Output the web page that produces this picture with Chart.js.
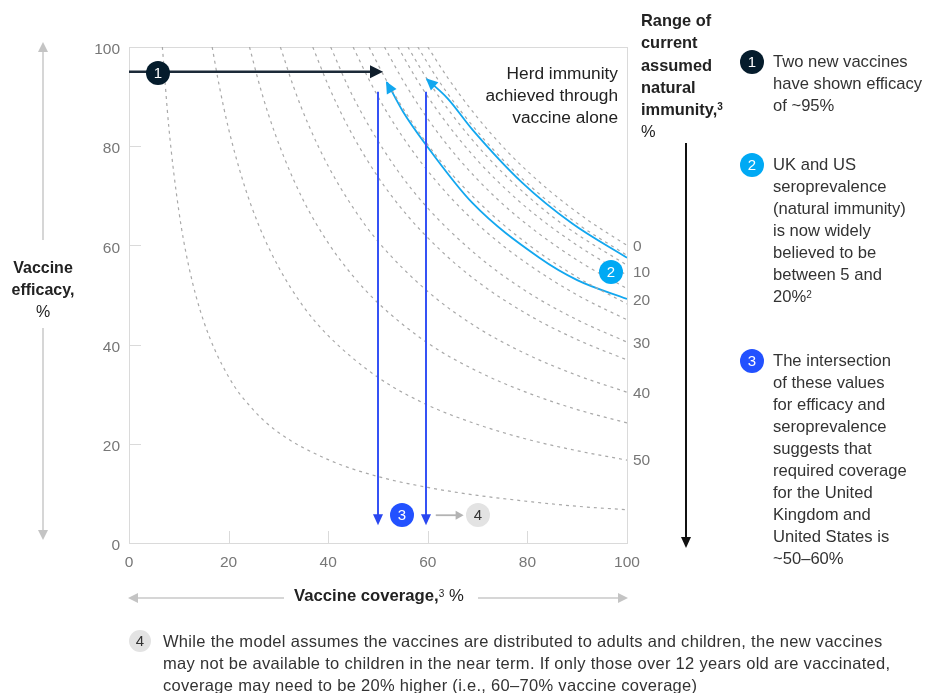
<!DOCTYPE html>
<html>
<head>
<meta charset="utf-8">
<script src="https://cdn.jsdelivr.net/npm/chart.js@4.4.1/dist/chart.umd.min.js"></script>
<style>
  html, body { margin: 0; padding: 0; background: #fff; }
  body { font-family: "Liberation Sans", Arial, sans-serif; color: #222; }
  #wrap { position: relative; width: 929px; height: 693px; overflow: hidden; }
  #chart { position: absolute; left: 0; top: 0; }
  .abs { position: absolute; white-space: nowrap; }
  .badge { position: absolute; width: 24px; height: 24px; border-radius: 50%; color: #fff;
           font-size: 15px; line-height: 24px; text-align: center; }
  .b1 { background: #051c2c; }
  .b2 { background: #00a9f4; }
  .b3 { background: #2251ff; }
  .b4 { background: #e3e3e3; color: #333; }
  .note { position: absolute; left: 773px; font-size: 16.6px; line-height: 22px; color: #333; white-space: nowrap; }
  .rng { position: absolute; left: 633px; font-size: 15.5px; color: #777; line-height: 18px; }
  sup { font-size: 10px; vertical-align: top; position: relative; top: -2px; }
  .garrow { position: absolute; background: #d6d6d6; }
</style>
</head>
<body>
<div id="wrap">
  <canvas id="chart" width="929" height="693"></canvas>

  <!-- in-plot callouts -->
  <div class="badge b1" style="left:146px; top:61px;">1</div>
  <div class="badge b2" style="left:599px; top:260px;">2</div>
  <div class="badge b3" style="left:390px; top:503px;">3</div>
  <div class="badge b4" style="left:466px; top:503px;">4</div>
  <div class="abs" style="right:311px; top:62px; font-size:17.3px; line-height:22px; text-align:right; color:#222;">Herd immunity<br>achieved through<br>vaccine alone</div>

  <!-- natural immunity scale -->
  <div class="abs" style="left:641px; top:9px; font-size:16.4px; line-height:22.3px; color:#222;"><b>Range of<br>current<br>assumed<br>natural<br>immunity,<sup>3</sup></b><br>%</div>
  <div class="abs" style="left:685px; top:143px; width:2px; height:396px; background:#111;"></div>
  <div class="abs" style="left:681px; top:537px; width:0; height:0; border-left:5px solid transparent; border-right:5px solid transparent; border-top:11px solid #111;"></div>
  <div class="rng" style="top:237px;">0</div>
  <div class="rng" style="top:263px;">10</div>
  <div class="rng" style="top:291px;">20</div>
  <div class="rng" style="top:334px;">30</div>
  <div class="rng" style="top:384px;">40</div>
  <div class="rng" style="top:451px;">50</div>

  <!-- side notes -->
  <div class="badge b1" style="left:740px; top:50px;">1</div>
  <div class="note" style="top:51px;">Two new vaccines<br>have shown efficacy<br>of ~95%</div>
  <div class="badge b2" style="left:740px; top:153px;">2</div>
  <div class="note" style="top:154px;">UK and US<br>seroprevalence<br>(natural immunity)<br>is now widely<br>believed to be<br>between 5 and<br>20%<sup>2</sup></div>
  <div class="badge b3" style="left:740px; top:349px;">3</div>
  <div class="note" style="top:350px;">The intersection<br>of these values<br>for efficacy and<br>seroprevalence<br>suggests that<br>required coverage<br>for the United<br>Kingdom and<br>United States is<br>~50–60%</div>

  <!-- y axis title -->
  <div class="abs" style="left:0; width:86px; top:257px; text-align:center; font-size:16px; line-height:22px; color:#222;"><b>Vaccine<br>efficacy,</b><br>%</div>
  <div class="garrow" style="left:42px; top:52px; width:1.5px; height:188px;"></div>
  <div class="abs" style="left:38px; top:42px; border-left:5px solid transparent; border-right:5px solid transparent; border-bottom:10px solid #c4c4c4;"></div>
  <div class="garrow" style="left:42px; top:328px; width:1.5px; height:202px;"></div>
  <div class="abs" style="left:38px; top:530px; border-left:5px solid transparent; border-right:5px solid transparent; border-top:10px solid #c4c4c4;"></div>

  <!-- x axis title -->
  <div class="abs" style="left:294px; top:586px; font-size:16.7px; line-height:20px; color:#222;"><b>Vaccine coverage,</b><sup>3</sup> %</div>
  <div class="garrow" style="left:138px; top:597px; width:146px; height:1.5px;"></div>
  <div class="abs" style="left:128px; top:593px; border-top:5px solid transparent; border-bottom:5px solid transparent; border-right:10px solid #c4c4c4;"></div>
  <div class="garrow" style="left:478px; top:597px; width:140px; height:1.5px;"></div>
  <div class="abs" style="left:618px; top:593px; border-top:5px solid transparent; border-bottom:5px solid transparent; border-left:10px solid #c4c4c4;"></div>

  <!-- footnote -->
  <div class="badge b4" style="left:129px; top:630px; width:22px; height:22px; line-height:22px;">4</div>
  <div class="abs" style="left:163px; top:630px; font-size:16.5px; letter-spacing:0.3px; line-height:22px; color:#333;">While the model assumes the vaccines are distributed to adults and children, the new vaccines<br>may not be available to children in the near term. If only those over 12 years old are vaccinated,<br>coverage may need to be 20% higher (i.e., 60–70% vaccine coverage)</div>
</div>

<script>
// Axis ticks
const coverageTicks = [0, 20, 40, 60, 80, 100];
const efficacyTicks = [0, 20, 40, 60, 80, 100];

// Herd-immunity threshold curves, [coverage %, efficacy %], one per assumed natural-immunity level
const curveA = [[6.7,100],[8,83.8],[10,67],[12,55.8],[15,44.7],[20,33.5],[25,26.8],[30,22.3],[40,16.8],[50,13.4],[60,11.2],[70,9.6],[80,8.4],[90,7.4],[100,6.7]];
const curveB = [[16.7,100],[18,92.8],[20,83.5],[23,72.6],[26,64.2],[30,55.7],[35,47.7],[40,41.8],[50,33.4],[60,27.8],[70,23.9],[80,20.9],[90,18.6],[100,16.7]];
const curveC = [[24.2,100],[26,93.1],[28,86.4],[31,78.1],[35,69.1],[40,60.5],[45,53.8],[50,48.4],[60,40.3],[70,34.6],[80,30.3],[90,26.9],[100,24.2]];
const curveD = [[30.4,100],[33,92.1],[36,84.4],[40,76],[45,67.6],[50,60.8],[60,50.7],[70,43.4],[80,38],[90,33.8],[100,30.4]];
const curveE = [[36.9,100],[40,92.3],[44,83.9],[50,73.8],[56,65.9],[63,58.6],[70,52.7],[80,46.1],[90,41],[100,36.9]];
const curveF = [[40.5,100],[44,92],[48,84.4],[54,75],[60,67.5],[70,57.9],[80,50.6],[90,45],[100,40.5]];
const curveG = [[45,100],[48,93.8],[52,86.5],[58,77.6],[65,69.2],[72,62.5],[80,56.3],[90,50],[100,45]];
const curveH = [[48.2,100],[52,92.7],[56,86.1],[62,77.7],[70,68.9],[80,60.3],[90,53.6],[100,48.2]];
const curveI = [[51.3,100],[55,93.3],[60,85.5],[66,77.7],[74,69.3],[82,62.6],[91,56.4],[100,51.3]];
const curveJ = [[54,100],[58,93.1],[63,85.7],[70,77.1],[78,69.2],[86,62.8],[93,58.1],[100,54]];
const curveK = [[56,100],[60,93.3],[65,86.2],[72,77.8],[80,70],[88,63.6],[100,56]];
const curveL = [[58,100],[62,93.5],[67,86.6],[74,78.4],[82,70.7],[90,64.4],[100,58]];
const curveM = [[60,100],[64,93.8],[69,87],[76,78.9],[84,71.4],[92,65.2],[100,60]];

// Current seroprevalence range (5% and 20% natural immunity)
const seroLow5 = [[59.8,93.5],[64,89.6],[69,83.3],[79,72.6],[89,64.4],[100,57.5]];
const seroHigh20 = [[51.8,92.9],[55,87],[59.4,80.6],[69,68.5],[82.4,57.5],[90,53],[100,49.2]];

// Callout values
const vaccineEfficacy = 95;           // reported efficacy of the new vaccines
const efficacyArrowEnd = 51;          // coverage where the efficacy arrow stops
const coverageRange = [50, 59.6];     // required coverage, UK / US
const coverageArrowTop = 91;          // efficacy where the coverage drop lines start
const coverageArrowBottom = 3.6;      // efficacy at the arrow tips
const adultsOnlyArrow = [61.6, 67.2]; // shift towards adults-only coverage

const dashedCurves = [curveA, curveB, curveC, curveD, curveE, curveF, curveG, curveH, curveI, curveJ, curveK, curveL, curveM];

const toXY = arr => arr.map(([x, y]) => ({ x, y }));

const datasets = dashedCurves.map(c => ({
  data: toXY(c),
  borderColor: '#a9a9a9',
  borderWidth: 1.2,
  borderDash: [3, 4],
  pointRadius: 0,
  showLine: true,
  fill: false,
  cubicInterpolationMode: 'monotone'
}));
[seroLow5, seroHigh20].forEach(c => datasets.push({
  data: toXY(c),
  borderColor: '#12a7ef',
  borderWidth: 1.8,
  pointRadius: 0,
  showLine: true,
  fill: false,
  cubicInterpolationMode: 'monotone',
  arrowStart: true
}));

function arrowHead(ctx, tipX, tipY, dx, dy, len, half, color) {
  const d = Math.hypot(dx, dy) || 1;
  const ux = dx / d, uy = dy / d;
  const bx = tipX - ux * len, by = tipY - uy * len;
  ctx.beginPath();
  ctx.moveTo(tipX, tipY);
  ctx.lineTo(bx - uy * half, by + ux * half);
  ctx.lineTo(bx + uy * half, by - ux * half);
  ctx.closePath();
  ctx.fillStyle = color;
  ctx.fill();
}

const frameAndCallouts = {
  id: 'frameAndCallouts',
  beforeDatasetsDraw(chart) {
    const { ctx, chartArea: a, scales: { x, y } } = chart;
    ctx.save();
    ctx.strokeStyle = '#dadada';
    ctx.lineWidth = 1;
    ctx.strokeRect(a.left + 0.5, a.top + 0.5, a.right - a.left, a.bottom - a.top);
    // inward tick marks
    ctx.beginPath();
    coverageTicks.slice(1, -1).forEach(v => {
      const px = Math.round(x.getPixelForValue(v)) + 0.5;
      ctx.moveTo(px, a.bottom); ctx.lineTo(px, a.bottom - 12);
    });
    efficacyTicks.slice(1, -1).forEach(v => {
      const py = Math.round(y.getPixelForValue(v)) + 0.5;
      ctx.moveTo(a.left, py); ctx.lineTo(a.left + 12, py);
    });
    ctx.stroke();
    ctx.restore();
  },
  afterDatasetsDraw(chart) {
    const { ctx, chartArea: a, scales: { x, y } } = chart;
    ctx.save();
    // arrowheads at the top of the seroprevalence curves
    chart.data.datasets.forEach((ds, i) => {
      if (!ds.arrowStart) return;
      const pts = chart.getDatasetMeta(i).data;
      const p0 = pts[0];
      const cx = p0.cp2x !== undefined ? p0.cp2x : pts[1].x;
      const cy = p0.cp2y !== undefined ? p0.cp2y : pts[1].y;
      arrowHead(ctx, p0.x - 1, p0.y - 1, p0.x - cx, p0.y - cy, 12, 5.5, '#12a7ef');
    });
    // efficacy arrow
    const ey = y.getPixelForValue(vaccineEfficacy);
    const ex = x.getPixelForValue(efficacyArrowEnd);
    ctx.strokeStyle = '#1c2a38';
    ctx.lineWidth = 2.5;
    ctx.beginPath(); ctx.moveTo(a.left, ey); ctx.lineTo(ex - 10, ey); ctx.stroke();
    arrowHead(ctx, ex, ey, 1, 0, 13, 6.5, '#0f1d2b');
    // required coverage drop lines
    coverageRange.forEach(c => {
      const cx = Math.round(x.getPixelForValue(c));
      const top = y.getPixelForValue(coverageArrowTop);
      const bot = y.getPixelForValue(coverageArrowBottom);
      ctx.strokeStyle = '#3552f5';
      ctx.lineWidth = 2;
      ctx.beginPath(); ctx.moveTo(cx, top); ctx.lineTo(cx, bot - 8); ctx.stroke();
      arrowHead(ctx, cx, bot, 0, 1, 11, 5, '#2a47f0');
    });
    // adults-only shift
    const gy = y.getPixelForValue(5.6);
    const g0 = x.getPixelForValue(adultsOnlyArrow[0]);
    const g1 = x.getPixelForValue(adultsOnlyArrow[1]);
    ctx.strokeStyle = '#b3b3b3';
    ctx.lineWidth = 1.8;
    ctx.beginPath(); ctx.moveTo(g0, gy); ctx.lineTo(g1 - 6, gy); ctx.stroke();
    arrowHead(ctx, g1, gy, 1, 0, 8, 4.5, '#b3b3b3');
    ctx.restore();
  }
};

const tickFont = { family: '"Liberation Sans", Arial, sans-serif', size: 15.5 };

new Chart(document.getElementById('chart'), {
  type: 'scatter',
  data: { datasets },
  options: {
    responsive: false,
    animation: false,
    devicePixelRatio: 1,
    layout: { padding: { left: 89, right: 302, top: 47, bottom: 120 } },
    plugins: { legend: { display: false }, tooltip: { enabled: false } },
    scales: {
      x: {
        type: 'linear', min: 0, max: 100,
        afterBuildTicks: s => { s.ticks = coverageTicks.map(v => ({ value: v })); },
        afterFit: s => { s.height = 30; },
        ticks: { color: '#777', font: tickFont, padding: 10, maxRotation: 0 },
        grid: { display: false, drawTicks: false },
        border: { display: false }
      },
      y: {
        type: 'linear', min: 0, max: 100,
        afterBuildTicks: s => { s.ticks = efficacyTicks.map(v => ({ value: v })); },
        afterFit: s => { s.width = 40; },
        ticks: { color: '#777', font: tickFont, padding: 9, labelOffset: 3 },
        grid: { display: false, drawTicks: false },
        border: { display: false }
      }
    }
  },
  plugins: [frameAndCallouts]
});
</script>
</body>
</html>
